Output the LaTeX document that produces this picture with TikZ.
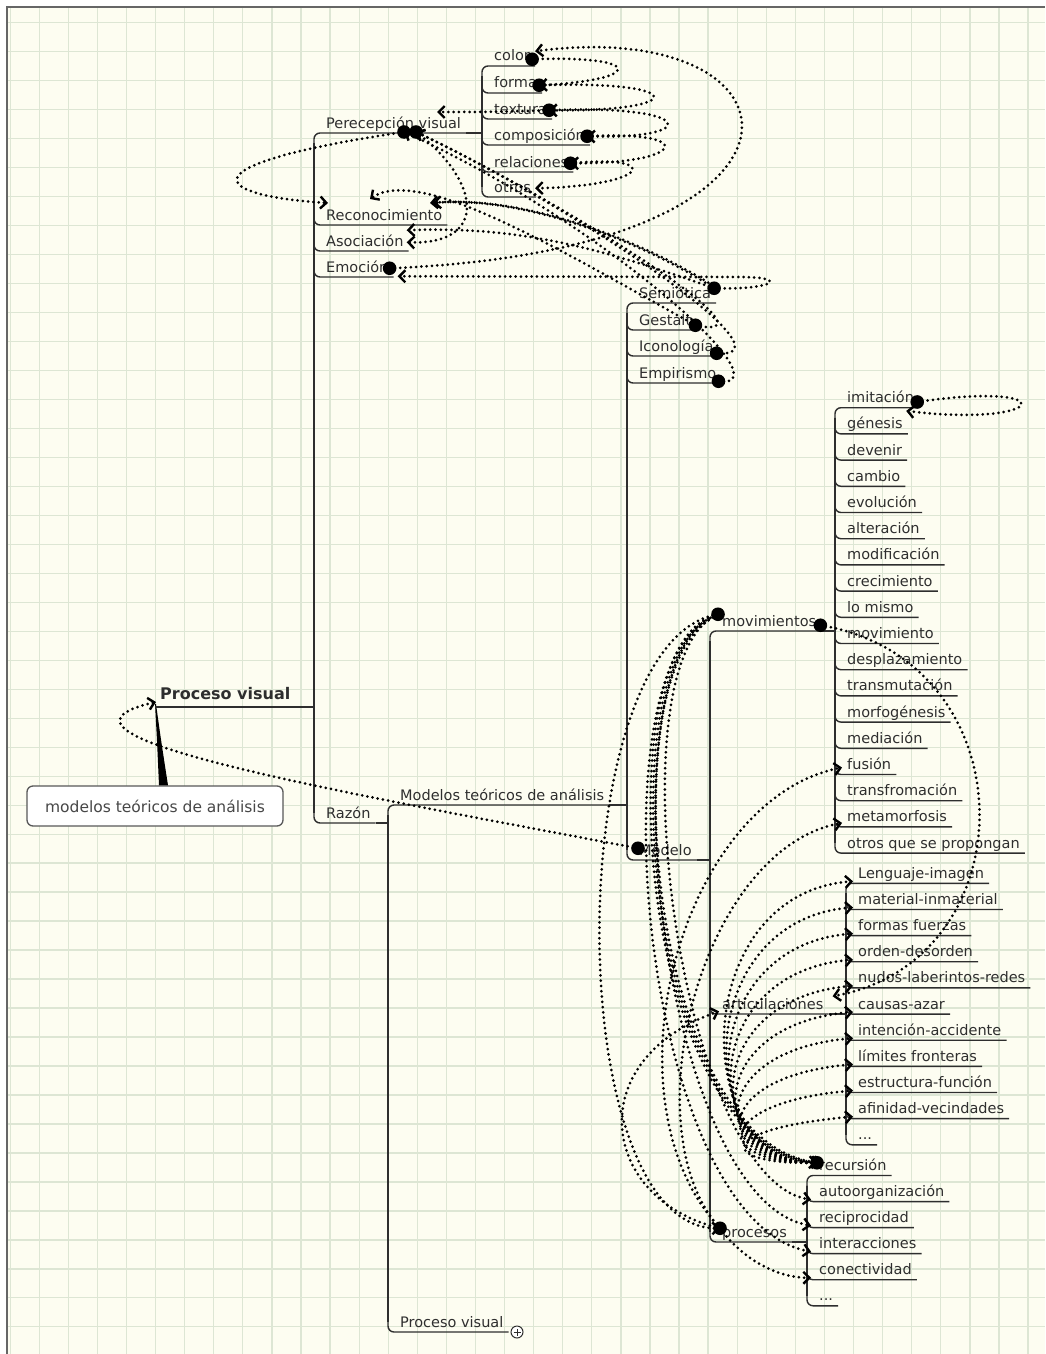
\documentclass[tikz,border=0pt]{standalone}
\usepackage{fontspec}
\setmainfont{DejaVu Sans}
\usetikzlibrary{arrows.meta}
\definecolor{paper}{HTML}{FDFDF1}
\definecolor{gridc}{HTML}{DDE6D4}
\definecolor{ink}{HTML}{2E2E2E}
\tikzset{
 lbl/.style={inner sep=0pt, anchor=base west, text=ink, font=\fontsize{14.5}{17}\selectfont, text height=10.5pt, text depth=3pt},
 tree/.style={draw=ink, line width=1.4pt},
 rel/.style={draw=black, line width=3pt, dash pattern=on 0pt off 5.3pt, line cap=round, -{Straight Barb[length=6pt,width=12pt,line width=2.4pt]}},
}
\newcommand\kid[4]{\node[lbl] (#1) at (#2+12,#3-5) {#4};
 \draw[tree,rounded corners=6pt] (#2,#3-16) |- ([xshift=5pt,yshift=-5pt]#1.base east);}
\newcommand\kidtop[4]{\node[lbl] (#1) at (#2+12,#3-5) {#4};
 \draw[tree,rounded corners=6pt] ([xshift=5pt,yshift=-5pt]#1.base east) -| (#2,#3+16);}
\newcommand\spine[3]{\draw[tree] (#1,#2+10) -- (#1,#3-10);}
\newcommand\joinp[3]{\draw[tree] ([xshift=5pt,yshift=-5pt]#1.base east) -- (#2,#3);
 \draw[draw=ink,line width=2.2pt] (#2-12,#3) -- (#2,#3);}
\newcommand\blob[1]{\fill[black] (#1) circle (6.8pt);}
\begin{document}
\begin{tikzpicture}[x=1pt,y=-1pt]
\useasboundingbox (0,0) rectangle (1045,1354);
% paper and grid
\fill[white] (0,0) rectangle (1045,1354);
\fill[paper] (7,7) rectangle (1045,1354);
\foreach \k in {0,...,35} \draw[gridc, line width=1.3pt] ({10.2+29.08*\k},7) -- ({10.2+29.08*\k},1354);
\foreach \k in {0,...,45} \draw[gridc, line width=1.3pt] (7,{22.7+28.98*\k}) -- (1045,{22.7+28.98*\k});
\draw[gray!80!black, line width=1.5pt] (7,1354) -- (7,7) -- (1045,7);

% root and callout
\node[font=\bfseries\fontsize{16}{19}\selectfont, text=ink, inner sep=0pt, anchor=base west] (root) at (160,699) {Proceso visual};
\node[draw=ink!80, fill=white, rounded corners=6pt, line width=1.3pt, minimum width=256pt, minimum height=40pt, font=\fontsize{15.5}{18}\selectfont, text=black!72] (call) at (155,806) {modelos teóricos de análisis};
\fill[black] ([shift={(-4,5)}]root.base west) .. controls (161,740) .. ([xshift=13pt]call.north) -- ([xshift=4pt]call.north) .. controls (157,740) .. ([shift={(-5,5)}]root.base west) -- cycle;
\draw[tree] ([shift={(-5,8)}]root.base west) -- (314,707);
\draw[draw=ink,line width=2.2pt] (300,707) -- (314,707);

% level 1
\kidtop{perc}{314}{133}{Perecepción visual}
\kid{recon}{314}{225}{Reconocimiento}
\kid{asoc}{314}{251}{Asociación}
\kid{emo}{314}{277}{Emoción}
\kid{razon}{314}{823}{Razón}
\spine{314}{133}{823}

% under Perecepcion
\joinp{perc}{482}{133}
\kidtop{color}{482}{66}{color}
\kid{forma}{482}{93}{forma}
\kid{textura}{482}{119}{textura}
\kid{comp}{482}{145}{composición}
\kid{relac}{482}{172}{relaciones}
\kid{otros}{482}{197}{otros}
\spine{482}{66}{197}

% under Razon
\joinp{razon}{388}{823}
\kidtop{modelos}{388}{805}{Modelos teóricos de análisis}
\kid{proc2}{388}{1332}{Proceso visual}
\spine{388}{805}{1332}
\node[draw=ink, fill=white, circle, inner sep=0pt, minimum size=12pt, line width=1pt] (plus) at (517,1332) {};
\draw[ink, line width=1pt] ([xshift=-3.5pt]plus.center) -- ([xshift=3.5pt]plus.center) ([yshift=-3.5pt]plus.center) -- ([yshift=3.5pt]plus.center);

% under Modelos
\joinp{modelos}{627}{805}
\kidtop{semio}{627}{303}{Semiótica}
\kid{gestalt}{627}{330}{Gestalt}
\kid{icono}{627}{356}{Iconología}
\kid{empir}{627}{383}{Empirismo}
\kid{modelo}{627}{860}{Modelo}
\spine{627}{303}{860}

% under Modelo
\joinp{modelo}{710}{860}
\kidtop{movim}{710}{631}{movimientos}
\kid{artic}{710}{1014}{articulaciones}
\kid{proc}{710}{1242}{procesos}
\spine{710}{631}{1242}

% movimientos list
\joinp{movim}{835}{631}
\kidtop{mv0}{835}{407.7}{imitación}
\foreach \t [count=\i from 1] in {génesis, devenir, cambio, evolución, alteración, modificación, crecimiento, lo mismo, movimiento, desplazamiento, transmutación, morfogénesis, mediación, fusión, transfromación, metamorfosis, otros que se propongan} {\kid{mv\i}{835}{407.7+26.2*\i}{\t}}
\spine{835}{407.7}{853.1}

% articulaciones list
\joinp{artic}{846}{1014}
\kidtop{ar0}{846}{883.3}{Lenguaje-imagen}
\foreach \t [count=\i from 1] in {material-inmaterial, formas fuerzas, orden-desorden, nudos-laberintos-redes, causas-azar, intención-accidente, límites fronteras, estructura-función, afinidad-vecindades} {\kid{ar\i}{846}{883.3+26.15*\i}{\t}}
\kid{ar10}{846}{1144.8}{...}
\spine{846}{883.3}{1144.8}

% procesos list
\joinp{proc}{807}{1242}
\kidtop{pr0}{807}{1175.5}{recursión}
\foreach \t [count=\i from 1] in {autoorganización, reciprocidad, interacciones, conectividad} {\kid{pr\i}{807}{1175.5+26.05*\i}{\t}}
\kid{pr5}{807}{1305.8}{...}
\spine{807}{1175.5}{1305.8}

% relation anchors
\coordinate (dColor) at ([shift={(2,2)}]color.east);
\coordinate (aColor) at ([shift={(5,-6)}]color.east);
\coordinate (dForma) at ([shift={(2,1)}]forma.east);
\coordinate (dText) at ([shift={(2,0)}]textura.east);
\coordinate (dComp) at ([shift={(2,0)}]comp.east);
\coordinate (dRel) at ([shift={(2,0)}]relac.east);
\coordinate (aOtros) at ([shift={(4,0)}]otros.east);
\coordinate (aPerc) at ([shift={(111,-16)}]perc.base west);
\coordinate (dPerc1) at ([shift={(78,4)}]perc.base west);
\coordinate (dPerc2) at ([shift={(90,4)}]perc.base west);
\coordinate (aRecon1) at ([shift={(2,-17)}]recon.base west);
\coordinate (aRecon2) at ([shift={(44,-21)}]recon.base west);
\coordinate (aRecon3) at ([shift={(104,-17)}]recon.base west);
\coordinate (aAsoc1) at ([shift={(3,-12)}]asoc.east);
\coordinate (aAsoc2) at ([shift={(3,0)}]asoc.east);
\coordinate (dEmo) at ([shift={(1,0)}]emo.east);
\coordinate (aEmo) at ([shift={(9,8)}]emo.east);
\coordinate (dSemio) at ([shift={(3,-6)}]semio.east);
\coordinate (dGest) at ([shift={(4,4)}]gestalt.east);
\coordinate (dIcon) at ([shift={(3,6)}]icono.east);
\coordinate (dEmpir) at ([shift={(2,7)}]empir.east);
\coordinate (dImit) at ([shift={(3,3)}]mv0.east);
\coordinate (aImit) at ([shift={(-8,12)}]mv0.east);
\coordinate (dMovR) at ([shift={(4,3)}]movim.east);
\coordinate (dMovL) at ([shift={(-4,-8)}]movim.west);
\coordinate (aArticR) at ([shift={(9,-9)}]artic.east);
\coordinate (aArticL) at ([shift={(-3,6)}]artic.west);
\coordinate (dModelo) at ([shift={(-1,-3)}]modelo.west);
\coordinate (aRoot) at ([shift={(-4,3)}]root.base west);
\coordinate (dRecur) at ([shift={(-2,-4)}]pr0.west);
\coordinate (dProc) at ([shift={(-2,-5)}]proc.west);
\coordinate (aFusion) at ([shift={(-5,-2)}]mv14.base west);
\coordinate (aMetam) at ([shift={(-5,1)}]mv16.base west);
\foreach \i in {1,...,4} \coordinate (aPr\i) at ([shift={(-8,3)}]pr\i.base west);
\foreach \i in {0,...,9} \coordinate (aAr\i) at ([shift={(-5,3)}]ar\i.base west);

% relations: top cluster
\draw[rel] (dEmo) .. controls (850,250) and (815,15) .. (aColor);
\draw[rel] (dColor) .. controls (645,55) and (645,80) .. (dForma);
\draw[rel] (dForma) .. controls (690,80) and (690,112) .. (dText);
\draw[rel] (dText) .. controls (700,104) and (700,140) .. (dComp);
\draw[rel] (dComp) .. controls (698,130) and (688,164) .. (dRel);
\draw[rel] (dRel) .. controls (665,154) and (650,186) .. (aOtros);
\draw[rel] (dText) .. controls (500,112) and (470,112) .. (aPerc);
\draw[rel] (dPerc1) .. controls (175,166) and (215,196) .. (aRecon1);
\foreach \s in {0,3} \draw[rel,transform canvas={xshift=\s pt}] (dSemio) .. controls (640,240) and (520,195) .. (aRecon3);
\draw[rel] (dPerc2) .. controls (480,180) and (490,245) .. (aAsoc2);
\draw[rel] (dSemio) .. controls (600,248) and (520,226) .. (aAsoc1);
\draw[rel] (dGest) .. controls (560,250) and (420,165) .. (aRecon2);
\draw[rel] (dGest) .. controls (790,345) and (560,200) .. (dPerc2);
\draw[rel] (dIcon) .. controls (800,360) and (580,210) .. (dPerc2);
\draw[rel] (dEmpir) .. controls (790,390) and (600,220) .. (dPerc1);
\draw[rel] (dSemio) .. controls (775,290) and (790,277) .. (740,277) -- (aEmo);

% relations: lower part
\draw[rel] (dImit) .. controls (1065,380) and (1050,428) .. (aImit);
\draw[rel] (dMovR) .. controls (1030,660) and (1030,960) .. (aArticR);
\foreach \s in {0,2.5,5} \draw[rel,transform canvas={xshift=\s pt}] (dMovL) .. controls (600,640) and (640,1150) .. (dRecur);
\draw[rel] (dMovL) .. controls (560,640) and (560,1230) .. (dProc);
\draw[rel] (dMovL) .. controls (610,660) and (680,1180) .. (aPr1);
\draw[rel] (dMovL) .. controls (600,650) and (660,1200) .. (aPr2);
\draw[rel] (dMovL) .. controls (590,650) and (640,1220) .. (aPr3);
\draw[rel] (dProc) .. controls (745,1262) and (780,1278) .. (aPr4);
\draw[rel] (dProc) .. controls (600,1200) and (580,1060) .. (aArticL);
\draw[rel] (dProc) .. controls (600,1100) and (680,800) .. (aFusion);
\draw[rel] (dProc) .. controls (630,1130) and (700,850) .. (aMetam);
\draw[rel] (dModelo) .. controls (330,790) and (15,735) .. (aRoot);
\foreach \i in {0,...,9} \draw[rel] (dRecur) .. controls ({688+3*\i},1165) and ({688+3*\i},{893.3+26.15*\i}) .. (aAr\i);

% start dots
\foreach \c in {dColor,dForma,dText,dComp,dRel,dPerc1,dPerc2,dEmo,dSemio,dGest,dIcon,dEmpir,dImit,dMovR,dMovL,dModelo,dRecur,dProc} {\blob{\c}}
\end{tikzpicture}
\end{document}
